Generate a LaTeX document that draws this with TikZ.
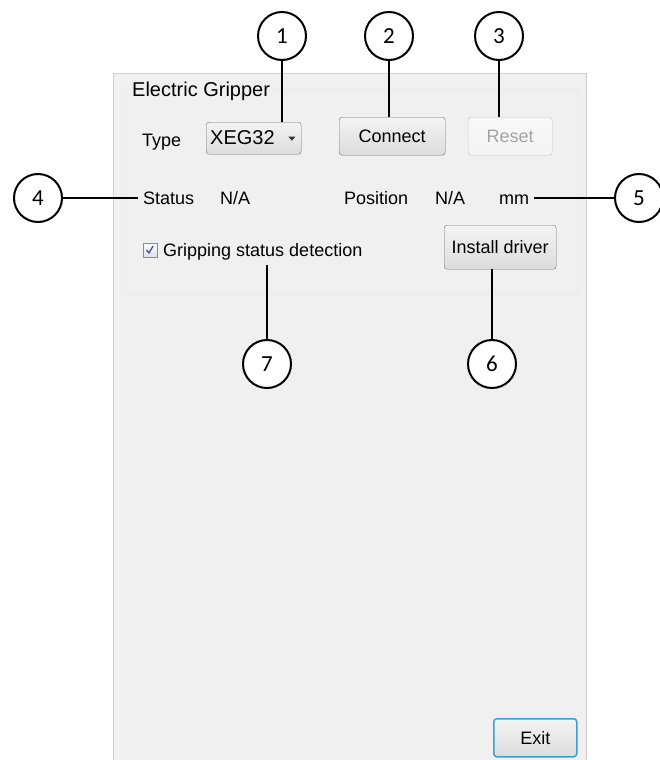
\documentclass[tikz,border=0pt]{standalone}
\usepackage{fontspec}
\setmainfont{Liberation Sans}
\newfontfamily\calloutfont{Carlito}
\usetikzlibrary{calc, positioning}
\def\uisize{18}
\def\titlesize{20}
\def\combosize{20}
\def\calloutsize{23}
\def\calloutdiam{48pt}
\def\linkwidth{2pt}
\def\buttonheight{38pt}
\def\linkgap{3pt}
\definecolor{panelfill}{HTML}{F0F0F0}
\definecolor{paneldraw}{HTML}{CFCFCF}
\definecolor{groupdraw}{HTML}{DADFE3}
\definecolor{buttontop}{HTML}{F4F4F4}
\definecolor{buttonbottom}{HTML}{DCDCDC}
\definecolor{buttondraw}{HTML}{707070}
\definecolor{disableddraw}{HTML}{BFC3C6}
\definecolor{disabledtext}{HTML}{A3A3A3}
\definecolor{focusdraw}{HTML}{3C9ED9}
\definecolor{checkblue}{HTML}{3A55A8}
\tikzset{
	% plain texts of the window
	uitext/.style={
		font=\fontsize{\uisize}{\uisize}\selectfont,
		text=black,
		text height=13pt,
		text depth=0pt,
		inner sep=2pt,
	},
	% push buttons
	button/.style={
		shape=rectangle,
		rounded corners=3pt,
		draw=buttondraw,
		top color=buttontop,
		bottom color=buttonbottom,
		minimum height=\buttonheight,
		uitext,
		inner sep=0pt,
	},
	% disabled push button
	disabled/.style={
		button,
		draw=disableddraw,
		top color=buttontop!60!white,
		bottom color=buttontop,
		text=disabledtext,
	},
	% numbered callouts
	callout/.style={
		shape=circle,
		draw=black,
		line width=\linkwidth,
		fill=white,
		minimum size=\calloutdiam,
		inner sep=0pt,
		font=\calloutfont\fontsize{\calloutsize}{\calloutsize}\selectfont,
	},
	% callout leaders
	link/.style={
		line width=\linkwidth,
		black,
	}
}
\begin{document}
\begin{tikzpicture}[x=1pt, y=-1pt]
		\useasboundingbox (0,0) rectangle (659,760);
		% Window and group box
		\draw[fill=panelfill, draw=paneldraw] (113,73) rectangle (586,770);
		\draw[draw=groupdraw, rounded corners=3pt] (122,89) rectangle (578,295);
		\node[
			uitext,
			font=\fontsize{\titlesize}{\titlesize}\selectfont,
			fill=panelfill,
			anchor=west,
		] (title) at (130,90) {Electric Gripper};
		
		% First row
		\node[
			uitext,
			anchor=west,
		] (type) at (140,140) {Type};
		%
		\node[
			button,
			anchor=north west,
			minimum width=95pt,
			minimum height=32pt,
			text width=87pt,
			align=left,
			inner xsep=4pt,
			font=\fontsize{\combosize}{\combosize}\selectfont,
		] (combo) at (206,122) {XEG32};
		\fill[black!80] ($(combo.east)+(-13,-1.5)$) -- ++(7,0) -- ++(-3.5,4) -- cycle;
		%
		\node[
			button,
			anchor=north west,
			minimum width=106pt,
		] (connect) at (339,117) {Connect};
		%
		\node[
			disabled,
			anchor=north west,
			minimum width=84pt,
		] (reset) at (468,117) {Reset};
		
		% Second row
		\node[
			uitext,
			anchor=west,
		] (status) at (141,198) {Status};
		%
		\node[
			uitext,
			anchor=west,
		] (status_value) at (218,198) {N/A};
		%
		\node[
			uitext,
			anchor=west,
		] (position) at (342,198) {Position};
		%
		\node[
			uitext,
			anchor=west,
		] (position_value) at (433,198) {N/A};
		%
		\node[
			uitext,
			anchor=west,
		] (mm) at (497,198) {mm};
		
		% Third row
		\node[
			shape=rectangle,
			draw=black!45,
			top color=white,
			bottom color=black!12,
			minimum size=14pt,
			inner sep=0pt,
		] (checkbox) at (150,250) {};
		\draw[checkblue, line width=1.3pt]
			($(checkbox.center)+(-3.5,0)$) -- ++(2.5,3) -- ++(4,-7);
		%
		\node[
			uitext,
			anchor=west,
		] (grip) at (161,250) {Gripping status detection};
		%
		\node[
			button,
			anchor=north west,
			minimum width=112pt,
			minimum height=44pt,
		] (install) at (444,225) {Install driver};
		
		% Exit button
		\node[
			button,
			anchor=north west,
			draw=focusdraw,
			line width=1.5pt,
			minimum width=83pt,
			minimum height=38pt,
		] (exit) at (493,718) {Exit};
		
		% Callouts
		\node[callout] (c1) at (282,36) {1};
		\node[callout] (c2) at (389,36) {2};
		\node[callout] (c3) at (499,36) {3};
		\node[callout] (c4) at (38,198) {4};
		\node[callout] (c5) at (639,198) {5};
		\node[callout] (c6) at (492,364) {6};
		\node[callout] (c7) at (267,364) {7};
		
		% Leaders
		\draw[link] (c1.south) -- (c1.south |- combo.north);
		\draw[link] (c2.south) -- (c2.south |- connect.north);
		\draw[link] (c3.south) -- (c3.south |- reset.north);
		\draw[link, shorten >=\linkgap] (c4.east) -- (status.west);
		\draw[link, shorten <=\linkgap] (mm.east) -- (c5.west);
		\draw[link] (c6.north) -- (c6.north |- install.south);
		\draw[link, shorten >=6pt] (c7.north) -- (c7.north |- grip.south);
	\end{tikzpicture}
\end{document}
